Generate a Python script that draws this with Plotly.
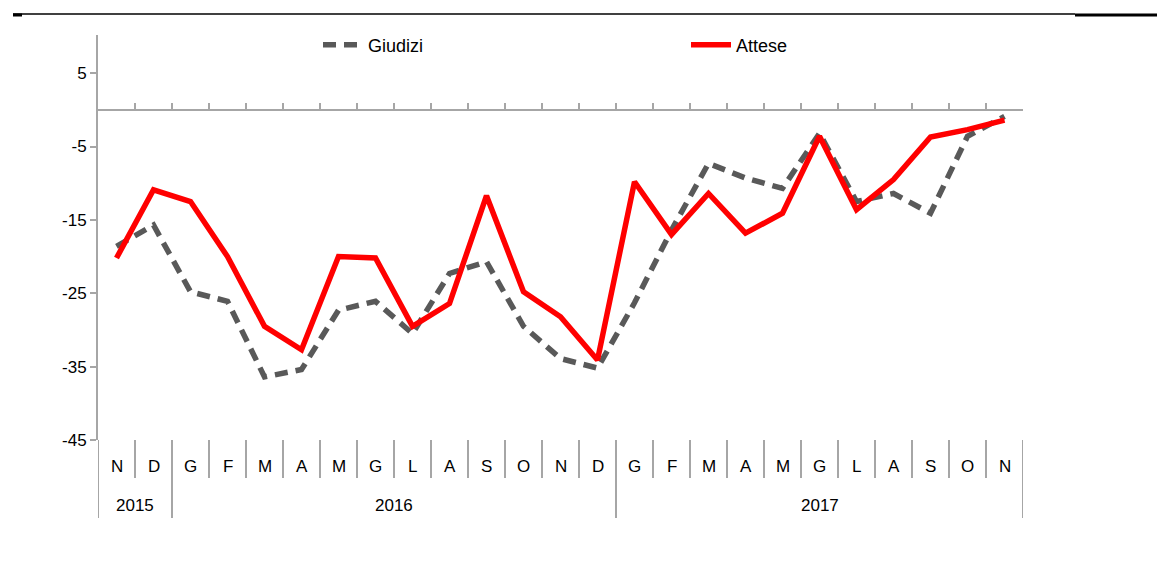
import plotly.graph_objects as go

months = ["N", "D", "G", "F", "M", "A", "M", "G", "L", "A", "S", "O", "N", "D",
          "G", "F", "M", "A", "M", "G", "L", "A", "S", "O", "N"]
years = ["2015", "2016", "2017"]
year_counts = [2, 12, 11]

giudizi = [-18.6, -15.7, -24.8, -26.1, -36.4, -35.4, -27.3, -26.1, -30.5, -22.3, -20.7, -29.5, -33.9,
           -35.2, -26.3, -16.4, -7.3, -9.3, -10.7, -3.2, -12.5, -11.4, -14.1, -3.6, -0.9]
attese = [-20.2, -10.9, -12.5, -20.0, -29.5, -32.7, -20.0, -20.2, -29.5, -26.4, -11.7, -24.8, -28.2,
          -34.1, -9.8, -17.0, -11.4, -16.8, -14.1, -3.6, -13.6, -9.5, -3.7, -2.7, -1.4]

y_ticks = [5, -5, -15, -25, -35, -45]
y_min, y_max = -45, 10.2

W, H = 1165, 579
OFF = 8  # page body margin
L_s, R_s, T_s, B_s = 98, 1023, 35, 440
ml = L_s - OFF
mr = W - (R_s - OFF)
mt = T_s - OFF
mb = H - (B_s - OFF)
plot_h = B_s - T_s
plot_w = R_s - L_s

def py(pix):
    return (B_s - pix) / plot_h

def px(pix):
    return (pix - L_s) / plot_w

xs = list(range(len(months)))
axis_col = "#A6A6A6"
font_fam = "Liberation Sans, Arial, Helvetica, sans-serif"

fig = go.Figure()
fig.add_trace(go.Scatter(x=xs, y=giudizi, mode="lines", name="Giudizi",
                         line=dict(color="#595959", width=5.5, dash="13px,8px"), legend="legend"))
fig.add_trace(go.Scatter(x=xs, y=attese, mode="lines", name="Attese",
                         line=dict(color="#FF0000", width=5.5), legend="legend2"))

zero_pos = (0 - y_min) / (y_max - y_min)

leg_common = dict(xanchor="left", yanchor="middle", font=dict(size=18, family=font_fam, color="#000000"),
                  bgcolor="rgba(0,0,0,0)", itemwidth=40)

fig.update_layout(
    width=W, height=H,
    margin=dict(l=ml, r=mr, t=mt, b=mb, autoexpand=False),
    paper_bgcolor="white", plot_bgcolor="white",
    font=dict(family=font_fam, size=17, color="#000000"),
    showlegend=True,
    legend=dict(x=px(318), y=py(45), **leg_common),
    legend2=dict(x=px(686), y=py(45), **leg_common),
    xaxis=dict(range=[-0.5, len(months) - 0.5], showgrid=False, zeroline=False,
               showticklabels=False, anchor="free", position=zero_pos,
               showline=True, linecolor=axis_col, linewidth=2,
               ticks="inside", ticklen=6, tickwidth=2, tickcolor=axis_col,
               tickmode="array", tickvals=[i + 0.5 for i in range(len(months))]),
    yaxis=dict(range=[y_min, y_max], showgrid=False, zeroline=False,
               tickmode="array", tickvals=y_ticks, ticktext=[str(v) for v in y_ticks],
               ticks="outside", ticklen=6, tickwidth=2, tickcolor=axis_col,
               showline=True, linecolor=axis_col, linewidth=2,
               tickfont=dict(size=17, family=font_fam)),
)

shapes = []
year_bounds = [-0.5]
for c in year_counts:
    year_bounds.append(year_bounds[-1] + c)
for i in range(len(months) + 1):
    b = i - 0.5
    is_year = any(abs(b - yb) < 1e-9 for yb in year_bounds)
    shapes.append(dict(type="line", xref="x", yref="paper", x0=b, x1=b,
                       y0=0, y1=py(518) if is_year else py(478),
                       line=dict(color=axis_col, width=2)))
shapes.append(dict(type="line", xref="paper", yref="paper", x0=px(13), x1=px(1075),
                   y0=py(14), y1=py(14), line=dict(color="#000000", width=1.5)))
shapes.append(dict(type="line", xref="paper", yref="paper", x0=px(1075), x1=px(1165),
                   y0=py(15), y1=py(15), line=dict(color="#000000", width=3)))
shapes.append(dict(type="line", xref="paper", yref="paper", x0=px(13), x1=px(22),
                   y0=py(15), y1=py(15), line=dict(color="#000000", width=3)))
fig.update_layout(shapes=shapes)

annotations = []
for i, m in enumerate(months):
    annotations.append(dict(x=i, y=py(466), xref="x", yref="paper", text=m, showarrow=False,
                            font=dict(size=17, family=font_fam), xanchor="center", yanchor="middle"))
start = 0
for yname, c in zip(years, year_counts):
    center = start + (c - 1) / 2
    annotations.append(dict(x=center, y=py(505), xref="x", yref="paper", text=yname, showarrow=False,
                            font=dict(size=17, family=font_fam), xanchor="center", yanchor="middle"))
    start += c
fig.update_layout(annotations=annotations)

fig.write_html("out.html")
